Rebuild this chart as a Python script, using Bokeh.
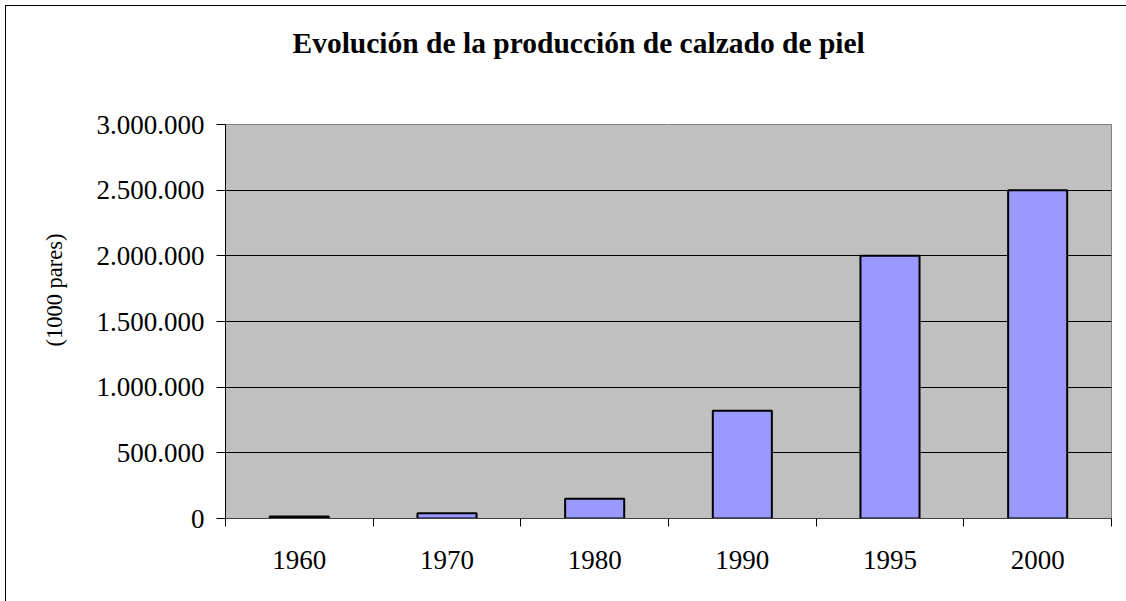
from bokeh.plotting import figure
from bokeh.models import Range1d, FixedTicker, Title, LinearAxis, ColumnDataSource
from bokeh.embed import file_html
from bokeh.resources import INLINE

years = ["1960", "1970", "1980", "1990", "1995", "2000"]
production = [15000, 40000, 150000, 820000, 2000000, 2500000]
y_ticks = [0, 500000, 1000000, 1500000, 2000000, 2500000, 3000000]
title_text = "Evolución de la producción de calzado de piel"
y_label = "(1000 pares)"

centers = [i + 0.5 for i in range(len(years))]
edges = list(range(len(years) + 1))
src = ColumnDataSource(dict(x=centers, top=production, year=years))

SERIF = "Liberation Serif"

p = figure(width=1126, height=601, output_backend="svg", toolbar_location=None,
           x_range=Range1d(0, len(years)), y_range=Range1d(0, y_ticks[-1]),
           min_border_left=225, min_border_right=15, min_border_top=124, min_border_bottom=83)
p.background_fill_color = "#C0C0C0"
p.border_fill_color = None
p.outline_line_color = "#808080"
p.outline_line_width = 1

p.vbar(x="x", top="top", bottom=0, width=0.4, source=src,
       fill_color="#9999FF", line_color="black", line_width=2)

# x axis: labels at centers, tick marks at category boundaries
xa = p.xaxis[0]
xa.ticker = FixedTicker(ticks=centers, minor_ticks=edges)
xa.major_label_overrides = {c: y for c, y in zip(centers, years)}
xa.major_tick_in = 0
xa.major_tick_out = 0
xa.minor_tick_in = 0
xa.minor_tick_out = 8
xa.minor_tick_line_color = "black"
xa.axis_line_color = "#404040"
xa.major_label_text_font = SERIF
xa.major_label_text_font_size = "27px"
xa.major_label_text_color = "black"
xa.major_label_standoff = 24

ya = p.yaxis[0]
ya.ticker = FixedTicker(ticks=y_ticks, minor_ticks=[])
ya.major_label_overrides = {t: f"{t:,}".replace(",", ".") for t in y_ticks}
ya.major_tick_in = 0
ya.major_tick_out = 9
ya.major_tick_line_color = "black"
ya.axis_line_color = "black"
ya.major_label_text_font = SERIF
ya.major_label_text_font_size = "27px"
ya.major_label_text_color = "black"
ya.major_label_standoff = 12

p.xgrid.grid_line_color = None
p.ygrid.grid_line_color = "black"
p.ygrid.grid_line_width = 1

# invisible (white) spacer axis above the frame, so the title sits higher
spacer = LinearAxis(ticker=FixedTicker(ticks=[len(years) / 2], minor_ticks=[]),
                    axis_line_color=None, major_tick_line_color="white",
                    minor_tick_line_color=None,
                    major_tick_in=0, major_tick_out=61, minor_tick_in=0, minor_tick_out=0,
                    major_label_standoff=0, major_label_text_font_size="0px",
                    major_label_overrides={len(years) / 2: ""})
p.add_layout(spacer, "above")

p.title.text = title_text
p.title.text_font = SERIF
p.title.text_font_style = "bold"
p.title.text_font_size = "29.5px"
p.title.text_color = "black"
p.title.align = "left"
p.title.offset = 67
p.title.standoff = 10

ytitle = Title(text=y_label)
ytitle.text_font = SERIF
ytitle.text_font_size = "22.5px"
ytitle.text_font_style = "normal"
ytitle.text_color = "black"
ytitle.align = "left"
ytitle.offset = 172
ytitle.standoff = 54
p.add_layout(ytitle, "left")

# chart-area border (left and top edges visible, as in the reference)
p.styles = {"background-color": "white",
            "box-shadow": "inset 5px 5px 0 0 white, inset 6px 6px 0 0 black"}

open("out.html", "w").write(file_html(p, INLINE))
